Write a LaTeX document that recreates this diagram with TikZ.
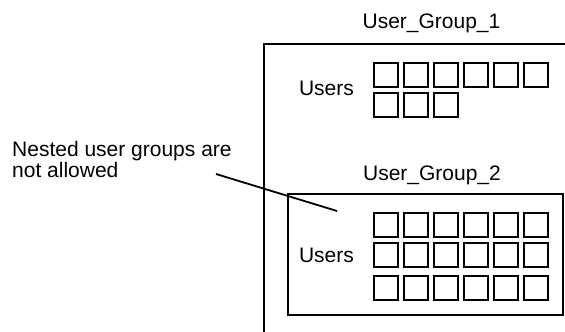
\documentclass[tikz,border=0pt]{standalone}
\usepackage{fontspec}
\setmainfont{Liberation Sans}
\tikzset{
  lbl/.style={font=\fontsize{21}{24}\selectfont, inner sep=0pt, anchor=base},
  frame/.style={line width=2pt},
  usr/.style={draw, line width=2pt, minimum width=24pt, minimum height=24pt, inner sep=0pt, anchor=north west},
  pointer/.style={line width=1.8pt}
}
\begin{document}
\begin{tikzpicture}[x=1pt,y=-1pt]
\useasboundingbox (0,0) rectangle (565,332);
% outer group (cut by the picture edges)
\draw[frame] (567,43.5) -- (264,43.5) -- (264,334);
\node[lbl] (g1) at (431.5,28) {User\_Group\_1};
\node[lbl] (u1) at (326.5,95) {Users};
\foreach \i in {0,...,5} {\node[usr] (a\i) at (372.5+30*\i,61.5) {};}
\foreach \i in {0,...,2} {\node[usr] (b\i) at (372.5+30*\i,91.5) {};}
% inner group
\draw[frame] (288.3,194.3) rectangle (563,315);
\node[lbl] (g2) at (432,180) {User\_Group\_2};
\node[lbl] (u2) at (326.5,262) {Users};
\foreach \i in {0,...,5} {\node[usr] (c\i) at (372.5+30*\i,212) {};}
\foreach \i in {0,...,5} {\node[usr] (d\i) at (372.5+30*\i,241.5) {};}
\foreach \i in {0,...,5} {\node[usr] (e\i) at (372.5+30*\i,274.5) {};}
% note
\node[lbl, anchor=base west] (n1) at (12,156.5) {Nested user groups are};
\node[lbl, anchor=base west] (n2) at (12,177) {not allowed};
\coordinate (p1) at (216,174);
\coordinate (p2) at (337,211);
\draw[pointer] (p1) -- (p2);
\end{tikzpicture}
\end{document}
